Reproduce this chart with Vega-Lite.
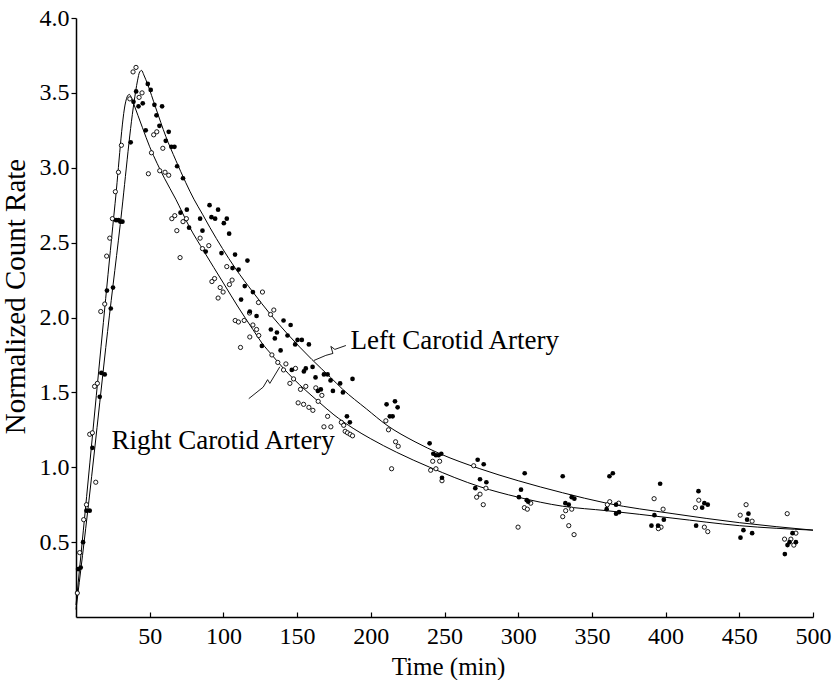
{
  "$schema": "https://vega.github.io/schema/vega-lite/v6.json",
  "width": 737,
  "height": 599,
  "autosize": {"type": "none"},
  "padding": {"left": 76, "top": 18, "right": 20, "bottom": 63},
  "background": "white",
  "config": {
    "view": {"stroke": null},
    "font": "Liberation Serif",
    "axis": {
      "domainColor": "black", "domainWidth": 1.5, "tickColor": "black", "tickWidth": 1.2,
      "labelFont": "Liberation Serif", "labelFontSize": 24, "labelColor": "black",
      "titleFont": "Liberation Serif", "titleFontWeight": "normal", "titleColor": "black",
      "grid": false, "labelFlush": false
    }
  },
  "datasets": {
    "curves": [
      {"series": "Left", "t": 0, "v": 0.05}, {"series": "Left", "t": 8.8, "v": 0.78}, {"series": "Left", "t": 16.1, "v": 1.43},
      {"series": "Left", "t": 20.2, "v": 1.8}, {"series": "Left", "t": 30, "v": 2.62}, {"series": "Left", "t": 39.4, "v": 3.44},
      {"series": "Left", "t": 41.7, "v": 3.58}, {"series": "Left", "t": 43.2, "v": 3.64}, {"series": "Left", "t": 44.5, "v": 3.65},
      {"series": "Left", "t": 46, "v": 3.62}, {"series": "Left", "t": 48.5, "v": 3.56}, {"series": "Left", "t": 54.1, "v": 3.4},
      {"series": "Left", "t": 60.9, "v": 3.21}, {"series": "Left", "t": 67.7, "v": 3.05}, {"series": "Left", "t": 74.5, "v": 2.9},
      {"series": "Left", "t": 80, "v": 2.79}, {"series": "Left", "t": 85.8, "v": 2.69}, {"series": "Left", "t": 90.9, "v": 2.6},
      {"series": "Left", "t": 99.4, "v": 2.46}, {"series": "Left", "t": 108, "v": 2.33}, {"series": "Left", "t": 120, "v": 2.17},
      {"series": "Left", "t": 132, "v": 2.02}, {"series": "Left", "t": 143.5, "v": 1.89}, {"series": "Left", "t": 160, "v": 1.72},
      {"series": "Left", "t": 172.7, "v": 1.6}, {"series": "Left", "t": 181, "v": 1.52}, {"series": "Left", "t": 197, "v": 1.39},
      {"series": "Left", "t": 211, "v": 1.28}, {"series": "Left", "t": 230, "v": 1.17}, {"series": "Left", "t": 247, "v": 1.09},
      {"series": "Left", "t": 274, "v": 0.99}, {"series": "Left", "t": 300, "v": 0.91}, {"series": "Left", "t": 330, "v": 0.83},
      {"series": "Left", "t": 360, "v": 0.76}, {"series": "Left", "t": 405, "v": 0.69}, {"series": "Left", "t": 450, "v": 0.63},
      {"series": "Left", "t": 500, "v": 0.58},
      {"series": "Right", "t": 0, "v": 0.08}, {"series": "Right", "t": 5, "v": 0.58}, {"series": "Right", "t": 13.8, "v": 1.48},
      {"series": "Right", "t": 26.5, "v": 2.76}, {"series": "Right", "t": 33.7, "v": 3.44}, {"series": "Right", "t": 35, "v": 3.48},
      {"series": "Right", "t": 36.2, "v": 3.49}, {"series": "Right", "t": 37.5, "v": 3.47}, {"series": "Right", "t": 39.4, "v": 3.42},
      {"series": "Right", "t": 42, "v": 3.35}, {"series": "Right", "t": 45, "v": 3.27}, {"series": "Right", "t": 50, "v": 3.14},
      {"series": "Right", "t": 55, "v": 3.03}, {"series": "Right", "t": 60, "v": 2.93}, {"series": "Right", "t": 67.7, "v": 2.79},
      {"series": "Right", "t": 76.7, "v": 2.61}, {"series": "Right", "t": 86.9, "v": 2.44}, {"series": "Right", "t": 100, "v": 2.23},
      {"series": "Right", "t": 110, "v": 2.07}, {"series": "Right", "t": 120, "v": 1.92}, {"series": "Right", "t": 126.1, "v": 1.83},
      {"series": "Right", "t": 132.9, "v": 1.75}, {"series": "Right", "t": 140.8, "v": 1.66}, {"series": "Right", "t": 147.6, "v": 1.59},
      {"series": "Right", "t": 164.3, "v": 1.44}, {"series": "Right", "t": 175, "v": 1.35}, {"series": "Right", "t": 188, "v": 1.26},
      {"series": "Right", "t": 200, "v": 1.19}, {"series": "Right", "t": 217.5, "v": 1.1}, {"series": "Right", "t": 240, "v": 1.0},
      {"series": "Right", "t": 274, "v": 0.87}, {"series": "Right", "t": 300, "v": 0.8}, {"series": "Right", "t": 330, "v": 0.74},
      {"series": "Right", "t": 360, "v": 0.71}, {"series": "Right", "t": 405, "v": 0.66}, {"series": "Right", "t": 450, "v": 0.61},
      {"series": "Right", "t": 500, "v": 0.58}
    ],
    "left": [
      {"t": 1.4, "v": 0.32}, {"t": 3.2, "v": 0.33}, {"t": 4.8, "v": 0.5}, {"t": 7.1, "v": 0.71}, {"t": 9.3, "v": 0.71},
      {"t": 11.1, "v": 1.13}, {"t": 16.1, "v": 1.47}, {"t": 17.2, "v": 1.63}, {"t": 19.5, "v": 1.62}, {"t": 21.0, "v": 2.18},
      {"t": 25.1, "v": 2.2}, {"t": 23.6, "v": 2.06}, {"t": 27.2, "v": 2.65}, {"t": 28.8, "v": 2.65}, {"t": 30.1, "v": 2.64},
      {"t": 31.5, "v": 2.64}, {"t": 37.1, "v": 3.17}, {"t": 40.8, "v": 3.51}, {"t": 39.0, "v": 3.44}, {"t": 42.4, "v": 3.41},
      {"t": 45.3, "v": 3.43}, {"t": 48.7, "v": 3.56}, {"t": 50.7, "v": 3.52}, {"t": 53.2, "v": 3.42}, {"t": 58.4, "v": 3.41},
      {"t": 54.6, "v": 3.35}, {"t": 56.6, "v": 3.28}, {"t": 62.9, "v": 3.24}, {"t": 60.9, "v": 3.18}, {"t": 64.7, "v": 3.14},
      {"t": 66.8, "v": 3.14}, {"t": 47.3, "v": 3.25}, {"t": 68.6, "v": 3.01}, {"t": 72.6, "v": 2.93}, {"t": 75.2, "v": 2.72},
      {"t": 70.9, "v": 2.7}, {"t": 84.2, "v": 2.66}, {"t": 76.7, "v": 2.6}, {"t": 85.8, "v": 2.58}, {"t": 90.6, "v": 2.75},
      {"t": 91.9, "v": 2.67}, {"t": 94.4, "v": 2.66}, {"t": 96.4, "v": 2.72}, {"t": 102.3, "v": 2.66}, {"t": 100.3, "v": 2.63},
      {"t": 103.9, "v": 2.56}, {"t": 88.0, "v": 2.44}, {"t": 98.7, "v": 2.43}, {"t": 107.9, "v": 2.42}, {"t": 116.3, "v": 2.38},
      {"t": 106.2, "v": 2.33}, {"t": 110.3, "v": 2.32}, {"t": 114.5, "v": 2.21}, {"t": 120.0, "v": 2.17}, {"t": 112.0, "v": 2.12},
      {"t": 117.9, "v": 2.04}, {"t": 122.5, "v": 2.01}, {"t": 140.8, "v": 1.98}, {"t": 145.6, "v": 1.95}, {"t": 132.2, "v": 1.92},
      {"t": 136.3, "v": 1.9}, {"t": 134.9, "v": 1.86}, {"t": 143.5, "v": 1.88}, {"t": 150.3, "v": 1.85}, {"t": 153.2, "v": 1.85},
      {"t": 158.0, "v": 1.82}, {"t": 148.7, "v": 1.82}, {"t": 126.1, "v": 1.81}, {"t": 138.8, "v": 1.78}, {"t": 155.9, "v": 1.66},
      {"t": 154.6, "v": 1.64}, {"t": 160.5, "v": 1.67}, {"t": 162.5, "v": 1.6}, {"t": 168.2, "v": 1.62}, {"t": 170.7, "v": 1.62},
      {"t": 172.7, "v": 1.58}, {"t": 179.2, "v": 1.56}, {"t": 187.6, "v": 1.59}, {"t": 164.1, "v": 1.51}, {"t": 166.1, "v": 1.52},
      {"t": 174.3, "v": 1.51}, {"t": 181.1, "v": 1.5}, {"t": 146.4, "v": 1.65}, {"t": 183.8, "v": 1.34}, {"t": 185.8, "v": 1.3},
      {"t": 210.7, "v": 1.42}, {"t": 216.4, "v": 1.44}, {"t": 218.2, "v": 1.4}, {"t": 212.9, "v": 1.34}, {"t": 214.8, "v": 1.34},
      {"t": 239.9, "v": 1.16}, {"t": 242.4, "v": 1.09}, {"t": 244.2, "v": 1.08}, {"t": 246.0, "v": 1.08}, {"t": 247.8, "v": 1.09},
      {"t": 248.3, "v": 0.93}, {"t": 272.5, "v": 1.05}, {"t": 276.6, "v": 1.02}, {"t": 274.1, "v": 0.92}, {"t": 278.4, "v": 0.9},
      {"t": 270.9, "v": 0.86}, {"t": 304.4, "v": 0.96}, {"t": 301.9, "v": 0.85}, {"t": 300.5, "v": 0.8}, {"t": 305.8, "v": 0.78},
      {"t": 306.8, "v": 0.77}, {"t": 330.2, "v": 0.94}, {"t": 332.0, "v": 0.76}, {"t": 334.3, "v": 0.75}, {"t": 336.3, "v": 0.8},
      {"t": 338.1, "v": 0.79}, {"t": 361.9, "v": 0.94}, {"t": 364.2, "v": 0.96}, {"t": 360.0, "v": 0.72}, {"t": 366.4, "v": 0.75},
      {"t": 368.4, "v": 0.7}, {"t": 366.4, "v": 0.69}, {"t": 396.3, "v": 0.89}, {"t": 392.4, "v": 0.68}, {"t": 398.8, "v": 0.65},
      {"t": 390.4, "v": 0.61}, {"t": 394.9, "v": 0.61}, {"t": 422.3, "v": 0.84}, {"t": 426.3, "v": 0.76}, {"t": 428.6, "v": 0.75},
      {"t": 424.8, "v": 0.73}, {"t": 420.7, "v": 0.61}, {"t": 456.2, "v": 0.69}, {"t": 455.3, "v": 0.65}, {"t": 452.8, "v": 0.58},
      {"t": 458.7, "v": 0.56}, {"t": 450.8, "v": 0.53}, {"t": 486.1, "v": 0.56}, {"t": 488.4, "v": 0.5}, {"t": 484.1, "v": 0.5},
      {"t": 482.7, "v": 0.48}, {"t": 480.9, "v": 0.42}
    ],
    "right": [
      {"t": 0.9, "v": 0.16}, {"t": 2.5, "v": 0.43}, {"t": 5.2, "v": 0.65}, {"t": 7.1, "v": 0.75}, {"t": 9.3, "v": 1.22},
      {"t": 11.1, "v": 1.23}, {"t": 13.4, "v": 0.9}, {"t": 12.6, "v": 1.54}, {"t": 14.5, "v": 1.56}, {"t": 16.8, "v": 2.04},
      {"t": 19.5, "v": 2.09}, {"t": 20.8, "v": 2.41}, {"t": 22.9, "v": 2.53}, {"t": 24.7, "v": 2.66}, {"t": 26.7, "v": 2.84},
      {"t": 28.8, "v": 2.97}, {"t": 30.8, "v": 3.15}, {"t": 36.5, "v": 3.46}, {"t": 38.7, "v": 3.64}, {"t": 40.7, "v": 3.67},
      {"t": 42.8, "v": 3.47}, {"t": 44.8, "v": 3.5}, {"t": 52.7, "v": 3.22}, {"t": 54.8, "v": 3.24}, {"t": 58.9, "v": 3.13},
      {"t": 51.2, "v": 3.1}, {"t": 49.1, "v": 2.96}, {"t": 56.8, "v": 2.98}, {"t": 60.4, "v": 2.97}, {"t": 62.9, "v": 2.95},
      {"t": 65.0, "v": 2.66}, {"t": 67.0, "v": 2.68}, {"t": 68.4, "v": 2.58}, {"t": 72.6, "v": 2.64}, {"t": 74.9, "v": 2.66},
      {"t": 70.6, "v": 2.4}, {"t": 84.2, "v": 2.53}, {"t": 85.8, "v": 2.46}, {"t": 90.1, "v": 2.48}, {"t": 102.3, "v": 2.34},
      {"t": 105.9, "v": 2.25}, {"t": 104.1, "v": 2.22}, {"t": 94.0, "v": 2.26}, {"t": 92.2, "v": 2.24}, {"t": 97.8, "v": 2.2},
      {"t": 99.8, "v": 2.17}, {"t": 96.4, "v": 2.13}, {"t": 126.5, "v": 2.17}, {"t": 123.8, "v": 2.1}, {"t": 134.2, "v": 2.05},
      {"t": 132.0, "v": 2.02}, {"t": 117.7, "v": 2.03}, {"t": 108.0, "v": 1.98}, {"t": 110.2, "v": 1.97}, {"t": 114.1, "v": 1.98},
      {"t": 120.0, "v": 1.95}, {"t": 122.5, "v": 1.92}, {"t": 124.0, "v": 1.88}, {"t": 117.9, "v": 1.87}, {"t": 111.6, "v": 1.8},
      {"t": 132.9, "v": 1.75}, {"t": 136.9, "v": 1.7}, {"t": 142.4, "v": 1.69}, {"t": 140.8, "v": 1.65}, {"t": 148.9, "v": 1.66},
      {"t": 147.6, "v": 1.59}, {"t": 145.1, "v": 1.56}, {"t": 155.9, "v": 1.54}, {"t": 152.3, "v": 1.52}, {"t": 162.7, "v": 1.53},
      {"t": 166.8, "v": 1.48}, {"t": 164.3, "v": 1.44}, {"t": 150.7, "v": 1.43}, {"t": 154.4, "v": 1.42}, {"t": 158.0, "v": 1.4},
      {"t": 160.7, "v": 1.38}, {"t": 170.7, "v": 1.34}, {"t": 168.2, "v": 1.27}, {"t": 172.9, "v": 1.27}, {"t": 180.0, "v": 1.3},
      {"t": 181.6, "v": 1.28}, {"t": 182.6, "v": 1.24}, {"t": 184.2, "v": 1.23}, {"t": 186.0, "v": 1.22}, {"t": 187.6, "v": 1.21},
      {"t": 210.2, "v": 1.31}, {"t": 212.0, "v": 1.25}, {"t": 216.8, "v": 1.17}, {"t": 218.6, "v": 1.14}, {"t": 214.1, "v": 0.99},
      {"t": 242.0, "v": 1.04}, {"t": 246.7, "v": 1.04}, {"t": 244.2, "v": 0.99}, {"t": 240.6, "v": 0.98}, {"t": 248.3, "v": 0.91},
      {"t": 269.8, "v": 1.01}, {"t": 278.1, "v": 0.86}, {"t": 274.1, "v": 0.82}, {"t": 271.8, "v": 0.8}, {"t": 276.3, "v": 0.75},
      {"t": 308.5, "v": 0.76}, {"t": 304.2, "v": 0.73}, {"t": 306.2, "v": 0.72}, {"t": 299.9, "v": 0.6}, {"t": 332.2, "v": 0.71},
      {"t": 336.3, "v": 0.72}, {"t": 330.2, "v": 0.67}, {"t": 334.3, "v": 0.61}, {"t": 337.9, "v": 0.55}, {"t": 360.5, "v": 0.75},
      {"t": 362.1, "v": 0.77}, {"t": 368.2, "v": 0.76}, {"t": 392.2, "v": 0.79}, {"t": 398.3, "v": 0.72}, {"t": 396.9, "v": 0.6},
      {"t": 395.1, "v": 0.59}, {"t": 422.5, "v": 0.78}, {"t": 420.2, "v": 0.73}, {"t": 426.3, "v": 0.6}, {"t": 428.6, "v": 0.57},
      {"t": 454.6, "v": 0.75}, {"t": 450.6, "v": 0.68}, {"t": 458.7, "v": 0.64}, {"t": 482.5, "v": 0.69}, {"t": 488.4, "v": 0.56},
      {"t": 480.7, "v": 0.52}, {"t": 485.0, "v": 0.52}, {"t": 487.0, "v": 0.48}
    ],
    "labels": [
      {"label": "Left Carotid Artery", "t": 186.2, "v": 1.79},
      {"label": "Right Carotid Artery", "t": 24.0, "v": 1.12}
    ],
    "leaders": [
      {"id": "L", "o": 1, "t": 183.1, "v": 1.813}, {"id": "L", "o": 2, "t": 175.6, "v": 1.787},
      {"id": "L", "o": 3, "t": 172.9, "v": 1.807}, {"id": "L", "o": 4, "t": 174.3, "v": 1.76},
      {"id": "L", "o": 5, "t": 169.5, "v": 1.747}, {"id": "L", "o": 6, "t": 161.4, "v": 1.713},
      {"id": "R", "o": 1, "t": 117.2, "v": 1.458}, {"id": "R", "o": 2, "t": 127.0, "v": 1.535},
      {"id": "R", "o": 3, "t": 130.0, "v": 1.585}, {"id": "R", "o": 4, "t": 131.5, "v": 1.56},
      {"id": "R", "o": 5, "t": 138.3, "v": 1.671}
    ]
  },
  "encoding": {
    "x": {"field": "t", "type": "quantitative", "scale": {"domain": [0, 500], "nice": false, "zero": false},
      "axis": {"title": "Time (min)", "values": [50, 100, 150, 200, 250, 300, 350, 400, 450, 500],
        "tickSize": -5, "labelPadding": 12, "titleFontSize": 25, "titleX": 372, "titleY": 57, "titleBaseline": "alphabetic"}},
    "y": {"field": "v", "type": "quantitative", "scale": {"domain": [0, 4], "nice": false, "zero": false},
      "axis": {"title": "Normalized Count Rate", "values": [0.5, 1, 1.5, 2, 2.5, 3, 3.5, 4], "format": ".1f",
        "tickSize": 5, "labelPadding": 2, "titleFontSize": 29, "titleX": -61, "titleY": 278, "titleBaseline": "middle", "titleAlign": "center"}}
  },
  "layer": [
    {"data": {"name": "curves"}, "mark": {"type": "line", "color": "black", "strokeWidth": 1, "interpolate": "monotone"},
      "encoding": {"detail": {"field": "series"}}},
    {"data": {"name": "leaders"}, "mark": {"type": "line", "color": "black", "strokeWidth": 0.9},
      "encoding": {"detail": {"field": "id"}, "order": {"field": "o"}}},
    {"data": {"name": "right"}, "mark": {"type": "point", "shape": "circle", "filled": true, "fill": "white", "stroke": "black", "strokeWidth": 0.9, "size": 18, "opacity": 1}},
    {"data": {"name": "left"}, "mark": {"type": "point", "shape": "circle", "filled": true, "color": "black", "size": 22, "opacity": 1}},
    {"data": {"name": "labels"}, "mark": {"type": "text", "align": "left", "baseline": "alphabetic", "fontSize": 27, "font": "Liberation Serif", "color": "black"},
      "encoding": {"text": {"field": "label"}}}
  ]
}
